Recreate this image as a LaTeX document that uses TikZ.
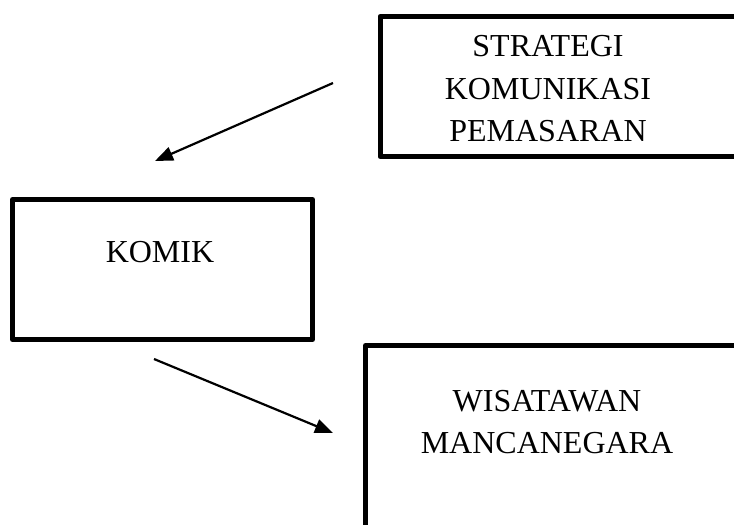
\documentclass[tikz,border=0pt]{standalone}
\usepackage{fontspec}
\setmainfont{Liberation Serif}
\usetikzlibrary{arrows.meta}

\begin{document}
\begin{tikzpicture}[x=1pt,y=-1pt,
    box/.style={draw, line width=5pt, line join=round, rectangle, inner sep=0pt, anchor=north west},
    lbl/.style={font=\fontsize{32}{42.5}\selectfont, align=center, inner sep=0pt},
    arr/.style={line width=2.2pt, -{Triangle[length=18pt,width=14pt]}}]

    \useasboundingbox (0,0) rectangle (734,525);
    \clip (0,0) rectangle (734,525);

    % strategi
    \node (strategi) at (377.5,14) [box, minimum width=420pt, minimum height=140pt] {};
    \node (strategiTxt) at (548,89) [lbl] {STRATEGI\\KOMUNIKASI\\PEMASARAN};

    % komik
    \node (komik) at (10,197) [box, minimum width=300pt, minimum height=140pt] {};
    \node (komikTxt) at (160,252) [lbl] {KOMIK};

    % wisatawan
    \node (wisatawan) at (363,343) [box, minimum width=420pt, minimum height=220pt] {};
    \node (wisatawanTxt) at (547,422) [lbl] {WISATAWAN\\MANCANEGARA};

    % arrows
    \coordinate (a1) at (333,83);
    \coordinate (a2) at (155,161);
    \coordinate (b1) at (154,359);
    \coordinate (b2) at (333,433);
    \draw[arr] (a1) -- (a2);
    \draw[arr] (b1) -- (b2);

\end{tikzpicture}
\end{document}
